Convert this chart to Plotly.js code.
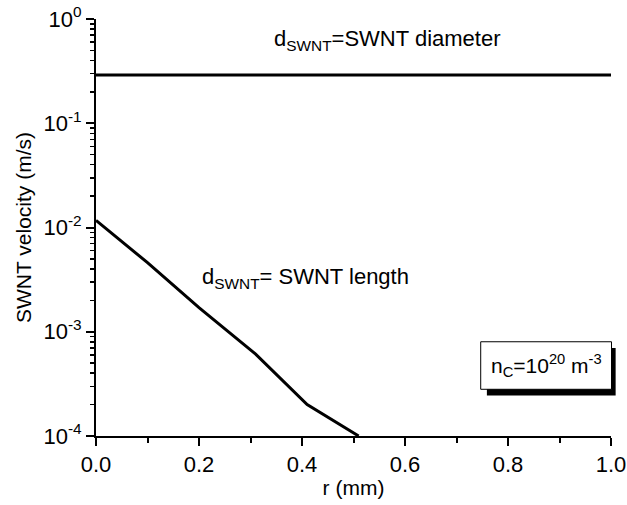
<!DOCTYPE html>
<html>
<head>
<meta charset="utf-8">
<script src="https://cdn.plot.ly/plotly-3.0.1.min.js"></script>
<style>html,body{margin:0;padding:0;background:#fff;}#chart{width:627px;height:505px;}</style>
</head>
<body>
<div id="chart"></div>
<script>
// Data
const diameterR = [0.0, 1.0];
const diameterV = [0.29, 0.29];
const lengthR = [0.0, 0.1, 0.2, 0.31, 0.41, 0.51];
const lengthV = [0.0117, 0.0046, 0.0017, 0.00061, 0.0002, 0.0001];
const yTickVals = [1e-4, 1e-3, 1e-2, 1e-1, 1];
const yTickText = ['10<sup>-4</sup>', '10<sup>-3</sup>', '10<sup>-2</sup>', '10<sup>-1</sup>', '10<sup>0</sup>'];
const xTickVals = [0, 0.2, 0.4, 0.6, 0.8, 1.0];
const xTickText = ['0.0', '0.2', '0.4', '0.6', '0.8', '1.0'];

const yMinor = [];
for (let e = -4; e < 0; e++) for (let m = 2; m <= 9; m++) yMinor.push(m * Math.pow(10, e));

const font = {family: 'Liberation Sans, Arial, sans-serif', color: '#000'};
const F = (s) => Object.assign({size: s}, font);

const traces = [
  {x: diameterR, y: diameterV, mode: 'lines', line: {color: '#000', width: 3}, hoverinfo: 'skip', showlegend: false},
  {x: lengthR, y: lengthV, mode: 'lines', line: {color: '#000', width: 3}, hoverinfo: 'skip', showlegend: false}
];

const layout = {
  width: 627, height: 505,
  margin: {l: 96, r: 16, t: 19, b: 69},
  paper_bgcolor: '#fff', plot_bgcolor: '#fff',
  font: F(22),
  showlegend: false,
  xaxis: {
    range: [0, 1.0], showgrid: false, zeroline: false,
    showline: true, linecolor: '#000', linewidth: 2,
    ticks: 'outside', ticklen: 8, tickwidth: 2, tickcolor: '#000',
    tickvals: xTickVals, ticktext: xTickText,
    tickfont: F(22),
    minor: {tickvals: [0.1, 0.3, 0.5, 0.7, 0.9], ticks: 'outside', ticklen: 5, tickwidth: 2, tickcolor: '#000'},
    title: {text: 'r (mm)', font: F(21), standoff: 4}
  },
  yaxis: {
    type: 'log', range: [-4, 0], showgrid: false, zeroline: false,
    showline: true, linecolor: '#000', linewidth: 2,
    ticks: 'outside', ticklen: 8, tickwidth: 2, tickcolor: '#000',
    tickvals: yTickVals, ticktext: yTickText,
    tickfont: F(22),
    minor: {tickvals: yMinor, ticks: 'outside', ticklen: 4, tickwidth: 1.5, tickcolor: '#000'},
    title: {text: 'SWNT velocity (m/s)', font: F(21), standoff: 6}
  },
  shapes: [
    {type: 'rect', xref: 'paper', yref: 'paper', x0: 0.759, x1: 1.009, y0: 0.097, y1: 0.211, fillcolor: '#000', line: {width: 0}, layer: 'above'},
    {type: 'rect', xref: 'paper', yref: 'paper', x0: 0.747, x1: 1.001, y0: 0.112, y1: 0.226, fillcolor: '#fff', line: {color: '#000', width: 1}, layer: 'above'}
  ],
  annotations: [
    {x: 0.342, y: Math.log10(0.63), xref: 'x', yref: 'y', xanchor: 'left', yanchor: 'middle', showarrow: false,
     text: 'd<sub>SWNT</sub>=SWNT diameter', font: F(22)},
    {x: 0.202, y: Math.log10(0.0033), xref: 'x', yref: 'y', xanchor: 'left', yanchor: 'middle', showarrow: false,
     text: 'd<sub>SWNT</sub>= SWNT length', font: F(22)},
    {x: 0.874, y: 0.169, xref: 'paper', yref: 'paper', xanchor: 'center', yanchor: 'middle', showarrow: false,
     text: 'n<sub>C</sub>=10<sup>20</sup> m<sup>-3</sup>', font: F(21)}
  ]
};

Plotly.newPlot('chart', traces, layout, {displayModeBar: false, staticPlot: true});
</script>
</body>
</html>
